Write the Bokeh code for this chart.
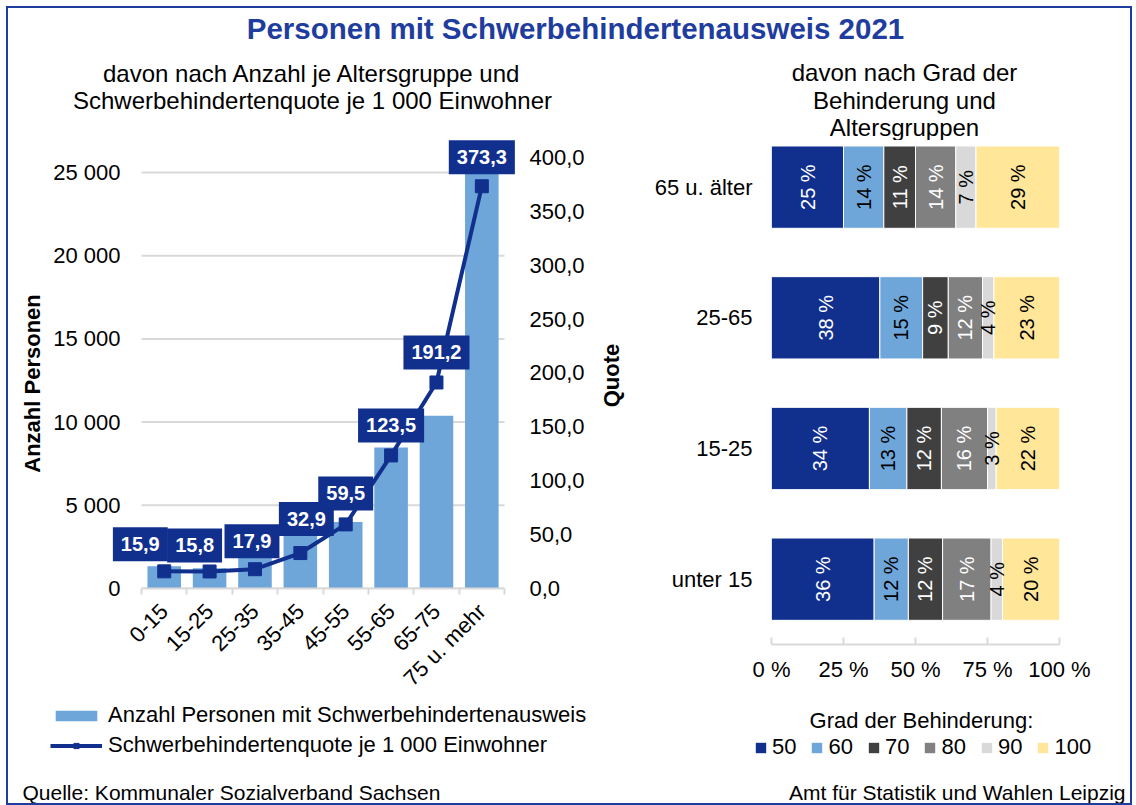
import math
from bokeh.plotting import figure
from bokeh.models import (Range1d, LinearAxis, FixedTicker, Label, Legend, LegendItem,
                          ColumnDataSource)
from bokeh.layouts import column, row
from bokeh.embed import file_html
from bokeh.resources import INLINE
from bokeh.core.properties import value

FONT = "Liberation Sans"
DARK = "#11308E"
BAR = "#6EA6DA"
GRID = "#D9D9D9"
TITLE_C = "#1F3D9E"

# ---------------- data ----------------
title_text = "Personen mit Schwerbehindertenausweis 2021"
left_sub = ["davon nach Anzahl je Altersgruppe und", "Schwerbehindertenquote je 1 000 Einwohner"]
right_sub = ["davon nach Grad der", "Behinderung und", "Altersgruppen"]
legend_left = ["Anzahl Personen mit Schwerbehindertenausweis", "Schwerbehindertenquote je 1 000 Einwohner"]
source_left = "Quelle: Kommunaler Sozialverband Sachsen"
source_right = "Amt für Statistik und Wahlen Leipzig"

age_groups = ["0-15", "15-25", "25-35", "35-45", "45-55", "55-65", "65-75", "75 u. mehr"]
persons = [1340, 1220, 1850, 3150, 3990, 8470, 10380, 25100]
quote = [15.9, 15.8, 17.9, 32.9, 59.5, 123.5, 191.2, 373.3]
quote_labels = ["15,9", "15,8", "17,9", "32,9", "59,5", "123,5", "191,2", "373,3"]

left_ticks = [0, 5000, 10000, 15000, 20000, 25000]
left_tick_labels = ["0", "5 000", "10 000", "15 000", "20 000", "25 000"]
right_ticks = [0, 50, 100, 150, 200, 250, 300, 350, 400]
right_tick_labels = ["0,0", "50,0", "100,0", "150,0", "200,0", "250,0", "300,0", "350,0", "400,0"]

rows = ["unter 15", "15-25", "25-65", "65 u. älter"]
grades = ["50", "60", "70", "80", "90", "100"]
g50 = [36, 34, 38, 25]
g60 = [12, 13, 15, 14]
g70 = [12, 12, 9, 11]
g80 = [17, 16, 12, 14]
g90 = [4, 3, 4, 7]
g100 = [20, 22, 23, 29]
pct_ticks = [0, 25, 50, 75, 100]
pct_tick_labels = ["0 %", "25 %", "50 %", "75 %", "100 %"]

grade_colors = ["#11308E", "#6EA6DA", "#404040", "#808080", "#D9D9D9", "#FFE699"]
grade_text_colors = ["white", "black", "white", "white", "black", "black"]

# label placement (screen px) for the quote data labels
lab_dx = [-24, -15, -3, 6, 0, 0, 0, 0]
lab_dy = [27, 26, 28, 34, 31, 30, 30, 29]


def text_fig(w, h):
    f = figure(width=w, height=h, min_border=0, x_range=Range1d(0, 1), y_range=Range1d(0, 1),
               x_axis_type=None, y_axis_type=None, output_backend="svg", toolbar_location=None,
               tools="", outline_line_color=None)
    return f


def add_text(f, x, y, t, size, align="center", bold=False, color="black", angle=0.0):
    f.add_layout(Label(x=x, y=y, x_units="screen", y_units="screen", text=t, angle=angle,
                       text_align=align, text_baseline="middle", text_font=FONT,
                       text_font_size=size, text_font_style="bold" if bold else "normal",
                       text_color=color))


# ---------------- title ----------------
pt = text_fig(1122, 47)
add_text(pt, 567, 27, title_text, "29.5px", bold=True, color=TITLE_C)

# ---------------- left chart ----------------
n = len(age_groups)
centers = [i + 0.5 for i in range(n)]
bounds = [float(i) for i in range(n + 1)]
H1 = 568

p1 = figure(width=554, height=H1, min_border_left=68, min_border_right=81,
            min_border_top=4, min_border_bottom=115,
            x_range=Range1d(-0.64, n + 0.286), y_range=Range1d(0, 26983),
            output_backend="svg", toolbar_location=None, tools="")
p1.outline_line_color = None
p1.extra_y_ranges = {"quote": Range1d(0, 416.7)}
p1.grid.visible = False

xa = p1.xaxis[0]
xa.bounds = (0, n)
xa.ticker = FixedTicker(ticks=centers, minor_ticks=bounds)
xa.major_label_overrides = {c: g for c, g in zip(centers, age_groups)}
xa.major_label_orientation = math.pi / 4
xa.major_tick_in = 0
xa.major_tick_out = 0
xa.minor_tick_in = 0
xa.minor_tick_out = 6
xa.minor_tick_line_color = GRID
xa.minor_tick_line_width = 2
xa.axis_line_color = GRID
xa.axis_line_width = 2
xa.major_label_standoff = 13
xa.major_label_text_font = FONT
xa.major_label_text_font_size = "22px"
xa.major_label_text_color = "black"

ya = p1.yaxis[0]
ya.ticker = FixedTicker(ticks=left_ticks)
ya.major_label_overrides = {t: s for t, s in zip(left_ticks, left_tick_labels)}
ya.axis_line_color = None
ya.major_tick_line_color = None
ya.minor_tick_line_color = None
ya.major_label_standoff = -14
ya.major_label_text_font = FONT
ya.major_label_text_font_size = "22px"
ya.major_label_text_color = "black"

ra = LinearAxis(y_range_name="quote", ticker=FixedTicker(ticks=right_ticks))
ra.major_label_overrides = {t: s for t, s in zip(right_ticks, right_tick_labels)}
ra.axis_line_color = None
ra.major_tick_line_color = None
ra.minor_tick_line_color = None
ra.major_label_standoff = 6
ra.major_label_text_font = FONT
ra.major_label_text_font_size = "22px"
ra.major_label_text_color = "black"
p1.add_layout(ra, "right")

# horizontal gridlines over the category span only
p1.segment(x0=[0] * len(left_ticks), x1=[n] * len(left_ticks), y0=left_ticks, y1=left_ticks,
           line_color=GRID, line_width=2, level="underlay")

src1 = ColumnDataSource(dict(x=centers, persons=persons, quote=quote))
p1.vbar(x="x", top="persons", width=0.74, source=src1, fill_color=BAR, line_color=None)
p1.line(x="x", y="quote", source=src1, y_range_name="quote", line_width=4, line_color=DARK)
p1.scatter(x="x", y="quote", source=src1, y_range_name="quote", marker="square", size=13,
           fill_color=DARK, line_color=DARK)

for i in range(n):
    p1.add_layout(Label(x=centers[i], y=quote[i], y_range_name="quote", text=quote_labels[i],
                        x_offset=lab_dx[i], y_offset=lab_dy[i], text_align="center",
                        text_baseline="middle", text_font=FONT, text_font_size="20px",
                        text_font_style="bold", text_color="white",
                        background_fill_color=DARK,
                        padding=dict(left=8, right=8, top=10, bottom=10)))

# strips holding the two axis titles
pa = text_fig(36, H1)
add_text(pa, 24, 320, "Anzahl Personen", "22px", bold=True, angle=math.pi / 2)
pq = text_fig(27, H1)
add_text(pq, 13, 328, "Quote", "22px", bold=True, angle=math.pi / 2)

# subtitle (left)
psl = text_fig(617, 80)
add_text(psl, 304, 62, left_sub[0], "24px")
add_text(psl, 304, 35, left_sub[1], "24px")

# legend + source (left); legend swatches use style-only stand-in glyphs that stay invisible
pbl = text_fig(617, 100)
d_bar = pbl.vbar(x=[0.5], top=[0], bottom=0, width=0.1, fill_color=BAR, line_color=None)
d_line = pbl.line(x=[0.5], y=[0.5], line_width=4, line_color=DARK)
d_pt = pbl.scatter(x=[-5], y=[-5], marker="square", size=9, fill_color=DARK, line_color=DARK)
leg1 = Legend(items=[LegendItem(label=legend_left[0], renderers=[d_bar]),
                     LegendItem(label=legend_left[1], renderers=[d_line, d_pt])],
              location=(42, 45), orientation="vertical", glyph_width=52, glyph_height=13,
              label_standoff=6, label_text_font=FONT, label_text_font_size="22px",
              label_text_color="black", label_height=25, spacing=4, padding=0, margin=0,
              border_line_color=None, background_fill_alpha=0)
pbl.add_layout(leg1)
add_text(pbl, 14, 11, source_left, "21px", align="left")

# ---------------- right chart ----------------
keys = ["g50", "g60", "g70", "g80", "g90", "g100"]
vals = [g50, g60, g70, g80, g90, g100]
ypos = [r + 0.5 for r in range(len(rows))]
totals = [sum(v[r] for v in vals) for r in range(len(rows))]
data2 = {"y": ypos}
for k, v in zip(keys, vals):
    data2[k] = [v[r] / totals[r] * 100 for r in range(len(rows))]
src2 = ColumnDataSource(data2)

p2 = figure(width=505, height=560, min_border_left=146, min_border_right=71,
            min_border_top=0, min_border_bottom=56,
            x_range=Range1d(0, 100), y_range=Range1d(0, 3.857),
            output_backend="svg", toolbar_location=None, tools="")
p2.outline_line_color = None
p2.grid.visible = False
stack = p2.hbar_stack(keys, y="y", height=0.63, color=grade_colors, source=src2,
                      line_color="white", line_width=1)

tx, ty, tt, tc = [], [], [], []
for r in range(len(rows)):
    left = 0.0
    for j, k in enumerate(keys):
        share = data2[k][r]
        tx.append(left + share / 2)
        ty.append(ypos[r])
        tt.append(f"{vals[j][r]} %")
        tc.append(grade_text_colors[j])
        left += share
p2.text(x="x", y="y", text="t", source=ColumnDataSource(dict(x=tx, y=ty, t=tt, c=tc)),
        angle=math.pi / 2, text_align="center", text_baseline="middle", text_color="c",
        text_font=value(FONT), text_font_size="20px")

xb = p2.xaxis[0]
xb.ticker = FixedTicker(ticks=pct_ticks)
xb.major_label_overrides = {t: s for t, s in zip(pct_ticks, pct_tick_labels)}
xb.axis_line_color = GRID
xb.axis_line_width = 2
xb.major_tick_in = 7
xb.major_tick_out = 0
xb.major_tick_line_color = GRID
xb.major_tick_line_width = 2
xb.minor_tick_line_color = None
xb.major_label_standoff = 12
xb.major_label_text_font = FONT
xb.major_label_text_font_size = "22px"
xb.major_label_text_color = "black"

yb = p2.yaxis[0]
yb.ticker = FixedTicker(ticks=ypos)
yb.major_label_overrides = {y: r for y, r in zip(ypos, rows)}
yb.axis_line_color = None
yb.major_tick_line_color = None
yb.minor_tick_line_color = None
yb.major_label_standoff = 13
yb.major_label_text_font = FONT
yb.major_label_text_font_size = "22px"
yb.major_label_text_color = "black"

# subtitle (right)
psr = text_fig(505, 85)
for k, t in enumerate(right_sub):
    add_text(psr, 279, 68 - 27.5 * k, t, "24px")

# legend + source (right)
pbr = text_fig(505, 103)
add_text(pbr, 296, 83, "Grad der Behinderung:", "22px")
dummies = [pbr.hbar(y=[0.5], right=[0], left=0, height=0.1, fill_color=c, line_color=None)
           for c in grade_colors]
leg2 = Legend(items=[LegendItem(label=g, renderers=[dummies[j]]) for j, g in enumerate(grades)],
              location=(129, 43), orientation="horizontal", glyph_width=13, glyph_height=13,
              label_standoff=5, label_text_font=FONT, label_text_font_size="22px",
              label_text_color="black", label_height=25, spacing=14, padding=0, margin=0,
              border_line_color=None, background_fill_alpha=0)
pbr.add_layout(leg2)
add_text(pbr, 500, 11, source_right, "21px", align="right")

# ---------------- layout ----------------
left_col = column(row(psl), row(column(pa), p1, column(pq)), row(pbl))
right_col = column(row(psr), row(p2), row(pbr))
layout = column(row(pt), row(left_col, right_col),
                styles={"border": "2px solid " + TITLE_C, "margin-left": "6px", "margin-top": "6px"})
open("out.html", "w").write(file_html(layout, INLINE))
